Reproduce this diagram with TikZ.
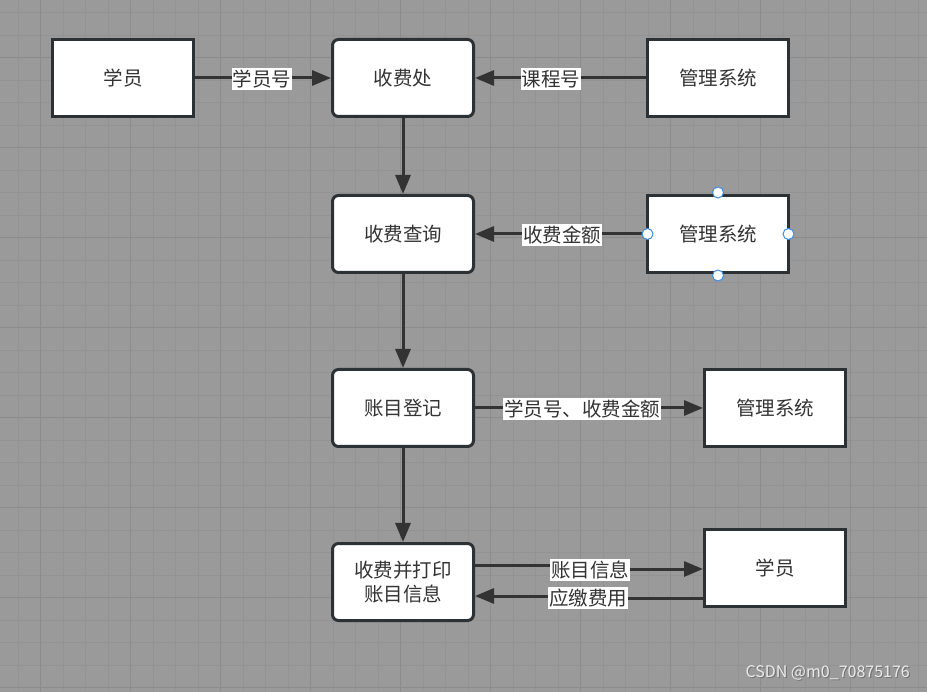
\documentclass[tikz,border=0pt]{standalone}
\usepackage{fontspec}
\newfontfamily\cjk{Noto Sans CJK SC}
\usetikzlibrary{arrows.meta}
\definecolor{bg}{HTML}{9A9A9A}
\definecolor{gridminor}{HTML}{939393}
\definecolor{gridmajor}{HTML}{8C8C8C}
\definecolor{boxline}{HTML}{2C3136}
\definecolor{arrline}{HTML}{333333}
\definecolor{txt}{HTML}{333333}
\definecolor{handleblue}{HTML}{3A8EE6}
\tikzset{
  box/.style={draw=boxline, line width=3pt, fill=white, minimum width=141pt, minimum height=77pt,
    font=\cjk\fontsize{19.5}{24}\selectfont, text=txt, align=center, inner sep=0pt},
  rbox/.style={box, rounded corners=6pt},
  arr/.style={draw=arrline, line width=3pt, -{Triangle[length=19pt,width=15pt]}},
  lbl/.style={fill=white, font=\cjk\fontsize{19.5}{22}\selectfont, text=txt, inner xsep=1.2pt, inner ysep=2pt},
  handle/.style={circle, draw=handleblue, fill=white, line width=1pt, minimum size=11pt, inner sep=0pt},
  gminor/.style={draw=gridminor, line width=1pt},
  gmajor/.style={draw=gridmajor, line width=1.5pt}
}
\begin{document}
\begin{tikzpicture}[x=1pt,y=-1pt]
\fill[bg] (0,0) rectangle (927,692);
\useasboundingbox (0,0) rectangle (927,692);
% grid
\foreach \i in {0,...,41} { \draw[gminor] ({18.2+22.5*\i},0) -- ++(0,692); }
\foreach \i in {0,...,31} { \draw[gminor] (0,{12.7+22.5*\i}) -- ++(927,0); }
\foreach \i in {0,...,10} { \draw[gmajor] ({40.7+90*\i},0) -- ++(0,692); }
\foreach \i in {0,...,7} { \draw[gmajor] (0,{57.7+90*\i}) -- ++(927,0); }

% boxes
\node[box]  (s1) at (123,78) {学员};
\node[rbox] (p1) at (403,78) {收费处};
\node[box]  (m1) at (718,78) {管理系统};
\node[rbox] (p2) at (403,234) {收费查询};
\node[box]  (m2) at (718,234) {管理系统};
\node[rbox] (p3) at (403,408) {账目登记};
\node[box]  (m3) at (775,408) {管理系统};
\node[rbox] (p4) at (403,582) {收费并打印\\账目信息};
\node[box]  (s2) at (775,568) {学员};

% connectors
\draw[arr] (s1.east) -- (p1.west);
\draw[arr] (m1.west) -- (p1.east);
\draw[arr] (p1.south) -- (p2.north);
\draw[arr] (m2.west) -- (p2.east);
\draw[arr] (p2.south) -- (p3.north);
\draw[arr] (p3.east) -- (m3.west);
\draw[arr] (p3.south) -- (p4.north);
\draw[arr] ([yshift=17pt]p4.east) -- (590,565) -- (590,569) -- ([yshift=-1pt]s2.west);
\draw[arr] ([yshift=-30pt]s2.west) -- (580,598) -- (580,596) -- ([yshift=-14pt]p4.east);

% labels
\node[lbl] (l1) at (262,79) {学员号};
\node[lbl] (l2) at (551,79) {课程号};
\node[lbl] (l3) at (562,235) {收费金额};
\node[lbl] (l4) at (582,409) {学员号、收费金额};
\node[lbl] (l5) at (590,570) {账目信息};
\node[lbl] (l6) at (588,598) {应缴费用};

% selection handles
\node[handle] (h1) at ([yshift=1.5pt]m2.north) {};
\node[handle] (h2) at ([xshift=1.5pt]m2.west) {};
\node[handle] (h3) at ([xshift=-1.5pt]m2.east) {};
\node[handle] (h4) at ([yshift=-1.5pt]m2.south) {};

% watermark
\node[anchor=east, font=\cjk\fontsize{16}{18}\selectfont, text=black!55, inner sep=0pt] (wm0) at (911.2,674.2) {CSDN @m0\_70875176};
\node[anchor=east, font=\cjk\fontsize{16}{18}\selectfont, text=white!92!black, inner sep=0pt] (wm) at (910,673) {CSDN @m0\_70875176};
\end{tikzpicture}
\end{document}
